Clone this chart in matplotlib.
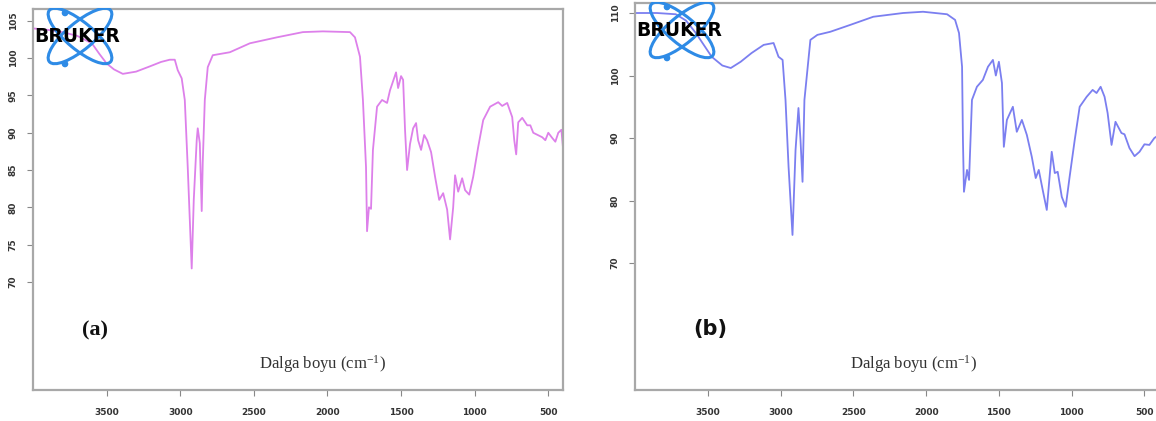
import matplotlib
matplotlib.use("Agg")
import matplotlib.pyplot as plt
from matplotlib.patches import Ellipse, Circle

# FTIR spectrum (a): wavenumber (cm-1) and transmittance (%)
wn_a = [4000, 3900, 3800, 3700, 3600, 3550, 3500, 3450, 3390, 3300, 3207, 3130, 3071, 3037,
        3017, 2990, 2969, 2949, 2922, 2908, 2888, 2881, 2867, 2854, 2847, 2833, 2813, 2779,
        2663, 2527, 2343, 2167, 2031, 1847, 1813, 1779, 1759, 1738, 1731, 1718, 1704, 1691,
        1663, 1629, 1595, 1575, 1534, 1520, 1500, 1486, 1473, 1459, 1439, 1418, 1398, 1384,
        1364, 1343, 1323, 1296, 1269, 1241, 1214, 1187, 1167, 1146, 1133, 1112, 1085, 1065,
        1037, 1010, 976, 942, 895, 840, 813, 779, 745, 731, 718, 704, 677, 643, 622, 602,
        541, 520, 500, 473, 452, 432, 411, 400]
tr_a = [104.0, 103.8, 103.5, 103.0, 102.0, 100.6, 99.3, 98.5, 97.9, 98.2, 98.9, 99.5, 99.8, 99.8,
        98.4, 97.3, 94.4, 85.4, 71.8, 81.0, 89.0, 90.6, 88.6, 79.5, 86.0, 94.4, 98.8, 100.4,
        100.8, 102.0, 102.8, 103.5, 103.6, 103.5, 102.8, 100.2, 94.4, 85.4, 76.8, 80.0, 79.8, 87.7,
        93.5, 94.4, 94.0, 95.7, 98.1, 96.0, 97.6, 97.1, 90.4, 85.0, 88.5, 90.6, 91.3, 89.0,
        87.7, 89.7, 89.0, 87.4, 84.1, 81.0, 81.9, 79.7, 75.7, 80.0, 84.3, 82.1, 83.9, 82.3,
        81.7, 84.1, 88.1, 91.7, 93.5, 94.1, 93.6, 94.0, 92.1, 89.0, 87.1, 91.4, 92.0, 91.0, 91.0, 90.0,
        89.4, 89.0, 90.0, 89.3, 88.8, 90.0, 90.4, 88.0]

# FTIR spectrum (b)
wn_b = [4000, 3850, 3720, 3650, 3582, 3473, 3400, 3342, 3274, 3199, 3116, 3048, 3014, 2986,
        2966, 2945, 2918, 2897, 2877, 2863, 2849, 2836, 2795, 2747, 2658, 2521, 2363, 2158,
        2021, 1856, 1801, 1774, 1753, 1747, 1740, 1719, 1705, 1685, 1651, 1610, 1575, 1541,
        1521, 1500, 1479, 1466, 1445, 1404, 1377, 1342, 1308, 1274, 1247, 1226, 1199, 1171,
        1137, 1116, 1096, 1068, 1041, 1014, 979, 945, 897, 856, 829, 801, 774, 753, 726,
        699, 658, 637, 603, 568, 534, 500, 466, 432, 400]
tr_b = [110.0, 110.0, 109.8, 108.8, 106.8, 103.0, 101.6, 101.2, 102.2, 103.6, 104.9, 105.2, 103.0, 102.5,
        96.1, 85.4, 74.5, 88.1, 94.8, 89.7, 83.0, 96.1, 105.7, 106.5, 107.0, 108.1, 109.4, 110.0,
        110.2, 109.8, 108.9, 106.8, 101.4, 89.7, 81.4, 84.9, 83.3, 96.1, 98.2, 99.3, 101.4, 102.5,
        100.0, 102.2, 98.8, 88.6, 92.9, 95.0, 91.0, 92.9, 90.5, 87.0, 83.6, 84.9, 81.7, 78.5,
        87.8, 84.4, 84.6, 80.6, 79.0, 83.8, 89.7, 95.0, 96.6, 97.7, 97.2, 98.2, 96.6, 94.0, 88.9,
        92.6, 90.8, 90.6, 88.4, 87.1, 87.8, 89.0, 88.9, 90.0, 90.5]

x_ticks = [3500, 3000, 2500, 2000, 1500, 1000, 500]
y_ticks_a = [70, 75, 80, 85, 90, 95, 100, 105]
y_ticks_b = [70, 80, 90, 100, 110]

W, H = 1156, 421
spine_col = "#a8a8a8"


def px_axes(fig, left, top, right, bottom):
    return fig.add_axes([left / W, 1 - bottom / H, (right - left) / W, (bottom - top) / H])


def style_axes(ax, yticks, ylim):
    ax.set_xlim(4000, 400)
    ax.set_ylim(*ylim)
    ax.set_xticks(x_ticks)
    ax.set_yticks(yticks)
    for s in ax.spines.values():
        s.set_color(spine_col)
        s.set_linewidth(1.6)
    ax.tick_params(axis="both", colors="#888888", length=4, width=0.8, labelcolor="#333333",
                   labelsize=6.5)
    ax.tick_params(axis="x", pad=9)
    ax.tick_params(axis="y", pad=7)
    for lab in ax.get_yticklabels():
        lab.set_rotation(90)
        lab.set_va("center")
    for lab in ax.get_xticklabels() + ax.get_yticklabels():
        lab.set_fontweight("bold")


def draw_logo(fig, left, top):
    # atom symbol + BRUKER wordmark, drawn in a small pixel-sized axes
    w, h = 72, 62
    lax = px_axes(fig, left, top, left + w, top + h)
    lax.set_xlim(0, w)
    lax.set_ylim(h, 0)
    lax.axis("off")
    blue = "#2e8be6"
    cx, cy = 35, 28
    for ang in (40, -40):
        lax.add_patch(Ellipse((cx, cy), 80, 27, angle=ang, fill=False, ec=blue, lw=2.2))
    lax.add_patch(Circle((20, 5), 2.6, color=blue))
    lax.add_patch(Circle((20, 56), 2.6, color=blue))
    fig.text((left - 11) / W, 1 - (top + 29) / H, "BRUKER", fontsize=13.5, fontweight="bold",
             color="black", va="center", ha="left", family="DejaVu Sans")


fig = plt.figure(figsize=(W / 100, H / 100), dpi=100)
plt.rcParams["mathtext.default"] = "regular"

# panel (a)
ax1 = px_axes(fig, 33, 9, 563, 390)
ax1.plot(wn_a, tr_a, color="#dd80ea", lw=1.3)
style_axes(ax1, y_ticks_a, (55.5, 106.6))
fig.text(95 / W, 1 - 330 / H, "(a)", fontsize=16, fontweight="bold", family="Liberation Serif",
         ha="center", va="center", color="#111111")
fig.text(322 / W, 1 - 364 / H, "Dalga boyu (cm$^{\\mathregular{-1}}$)", fontsize=12,
         family="Liberation Serif", ha="center", va="center", color="#333333")
draw_logo(fig, 45, 8)

# panel (b)
ax2 = px_axes(fig, 635, 3, 1159, 390)
ax2.plot(wn_b, tr_b, color="#7b7ff0", lw=1.3)
style_axes(ax2, y_ticks_b, (49.7, 111.6))
fig.text(710 / W, 1 - 329 / H, "(b)", fontsize=15, fontweight="bold", family="DejaVu Sans",
         ha="center", va="center", color="#111111")
fig.text(913 / W, 1 - 364 / H, "Dalga boyu (cm$^{\\mathregular{-1}}$)", fontsize=12,
         family="Liberation Serif", ha="center", va="center", color="#333333")
draw_logo(fig, 647, 2)

fig.savefig("out.png", dpi=100)
